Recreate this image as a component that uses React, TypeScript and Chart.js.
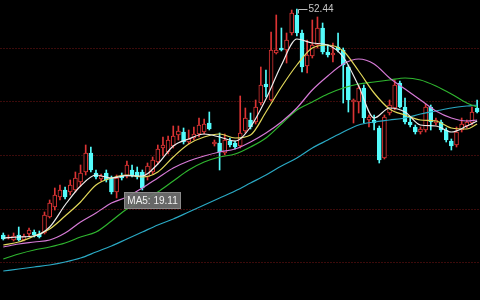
import React, { useEffect, useRef } from "react";
import { Chart, registerables } from "chart.js";

Chart.register(...registerables);

// ---- Candle data (price units) ----
const opens = [
  7.24, 6.64, 6.24, 7.24, 6.24, 7.44, 7.84, 7.44, 7.64, 10.84,
  12.84, 14.84, 16.24, 15.84, 16.24, 17.84, 19.84, 23.64, 19.64, 18.44,
  19.64, 18.64, 15.84, 19.04, 19.04, 20.24, 19.84, 19.84, 18.84, 19.84,
  21.84, 24.64, 23.84, 25.04, 27.24, 27.84, 25.84, 26.64, 27.44, 27.84,
  29.64, 25.44, 25.64, 23.64, 26.04, 25.64, 25.04, 28.04, 30.24, 29.84,
  33.64, 37.44, 34.24, 43.64, 44.64, 44.24, 47.64, 51.24, 47.64, 41.04,
  43.04, 45.24, 48.64, 43.84, 43.24, 44.84, 44.24, 40.84, 33.84, 33.84,
  36.64, 30.24, 30.24, 28.64, 22.64, 31.64, 32.64, 37.64, 32.84, 29.84,
  28.84, 27.84, 28.24, 32.84, 29.64, 29.84, 28.24, 26.04, 25.24, 28.24,
  29.04, 29.64, 32.64,
];
const highs = [
  7.64, 7.24, 7.64, 8.84, 7.44, 8.64, 8.24, 8.04, 11.84, 14.24,
  16.64, 17.24, 16.84, 18.24, 19.84, 21.24, 25.24, 24.84, 20.24, 19.44,
  20.24, 19.04, 19.24, 19.64, 22.04, 21.24, 20.84, 20.24, 21.64, 22.84,
  25.24, 26.84, 27.04, 29.04, 29.04, 28.64, 28.24, 28.84, 30.64, 30.44,
  31.84, 26.24, 27.64, 27.44, 26.64, 26.04, 35.04, 32.64, 31.64, 34.24,
  40.84, 40.24, 47.84, 51.24, 48.64, 47.64, 52.24, 52.44, 48.24, 46.24,
  50.24, 50.84, 49.64, 45.24, 45.64, 47.64, 44.64, 41.24, 34.44, 37.24,
  37.24, 31.24, 31.24, 29.04, 31.24, 34.24, 38.24, 38.04, 34.64, 30.84,
  29.24, 28.84, 33.44, 33.24, 30.64, 30.24, 28.64, 26.44, 28.84, 30.64,
  30.24, 32.84, 34.24,
];
const lows = [
  6.24, 6.44, 6.04, 6.04, 6.04, 7.04, 6.84, 6.64, 7.44, 10.64,
  12.24, 14.24, 14.44, 15.24, 15.84, 17.04, 19.24, 19.84, 18.44, 18.04,
  17.84, 15.44, 14.64, 18.24, 18.64, 18.84, 18.44, 16.24, 18.24, 19.44,
  21.44, 23.04, 23.44, 24.64, 26.24, 25.44, 25.44, 26.24, 26.84, 27.44,
  28.24, 25.04, 20.24, 23.24, 24.84, 24.44, 24.64, 27.64, 28.44, 29.44,
  33.24, 34.84, 34.04, 43.44, 44.04, 41.64, 47.24, 47.04, 39.84, 39.64,
  42.64, 44.64, 43.44, 42.84, 41.84, 43.84, 33.64, 31.84, 29.64, 31.64,
  29.64, 28.84, 28.24, 21.64, 22.44, 31.24, 32.24, 32.64, 29.44, 28.84,
  27.44, 27.44, 27.84, 28.24, 29.24, 27.84, 25.84, 24.24, 24.84, 27.84,
  28.64, 29.24, 31.64,
];
const closes = [
  6.44, 6.84, 7.04, 6.24, 7.04, 8.24, 7.24, 6.84, 11.24, 13.64,
  15.24, 16.24, 14.84, 17.24, 18.64, 19.64, 23.64, 20.24, 18.84, 19.04,
  18.24, 15.84, 18.64, 18.64, 21.24, 19.24, 18.84, 16.64, 21.04, 22.24,
  24.44, 25.24, 26.24, 27.04, 28.04, 25.84, 26.44, 27.44, 29.24, 29.44,
  28.44, 25.84, 23.84, 26.24, 25.24, 24.84, 27.64, 30.64, 28.84, 32.84,
  37.24, 36.84, 44.24, 44.24, 44.24, 46.24, 51.64, 47.64, 40.84, 43.24,
  45.24, 48.64, 43.84, 43.24, 43.64, 44.24, 41.24, 34.24, 34.24, 36.64,
  30.64, 30.84, 29.64, 22.24, 30.84, 33.24, 37.24, 32.84, 29.84, 29.24,
  27.84, 28.44, 32.84, 29.84, 30.24, 28.24, 26.24, 25.04, 27.84, 29.44,
  29.84, 31.84, 31.84,
];

// ---- Moving averages, read at these candle indices ----
const maIndex = [
  0, 3, 6, 9, 12, 15, 18, 21, 24, 27, 30, 33, 36, 39, 42, 45,
  48, 51, 54, 57, 60, 63, 66, 69, 72, 75, 78, 81, 84, 87, 90, 92,
];
const ma5 = [
  6.64, 6.84, 7.04, 8.84, 13.24, 17.04, 19.24, 18.64, 19.11, 19.04, 21.44, 25.04, 26.44, 27.44, 26.84, 26.04,
  28.84, 34.44, 41.24, 46.44, 45.64, 45.24, 42.84, 37.04, 30.64, 32.64, 31.84, 29.24, 29.04, 27.84, 29.04, 30.04,
];
const ma10 = [
  5.24, 5.84, 7.04, 8.44, 11.04, 13.84, 17.24, 18.64, 19.24, 18.84, 19.84, 22.84, 25.44, 26.84, 27.44, 26.64,
  27.24, 31.84, 36.84, 41.24, 44.64, 45.24, 44.04, 40.04, 35.64, 32.44, 31.24, 30.24, 30.04, 28.64, 28.44, 29.44,
];
const ma20 = [
  4.84, 5.44, 5.84, 6.24, 7.64, 9.84, 11.64, 13.64, 14.84, 16.64, 18.64, 20.64, 22.04, 23.04, 23.84, 24.44,
  25.84, 27.64, 29.84, 32.64, 36.24, 39.04, 41.44, 42.44, 41.44, 38.64, 36.44, 34.24, 32.04, 30.64, 30.04, 30.24,
];
const ma30 = [
  2.44, 3.44, 4.24, 4.84, 5.64, 6.84, 7.84, 10.04, 12.44, 14.04, 15.84, 18.04, 20.24, 21.84, 22.84, 23.44,
  24.84, 26.64, 29.44, 32.24, 33.84, 35.44, 36.64, 37.44, 37.84, 38.24, 38.64, 38.24, 37.04, 35.44, 33.64, 32.84,
];
const ma60 = [
  0.04, 0.44, 0.84, 1.24, 1.84, 2.64, 3.84, 5.04, 6.44, 7.84, 9.24, 10.44, 11.84, 13.24, 14.64, 16.04,
  17.64, 19.24, 21.04, 22.64, 24.64, 26.24, 27.84, 29.24, 29.84, 30.24, 30.64, 31.44, 32.04, 32.64, 33.04, 33.24,
];

const gridValues = [44.64, 34.04, 23.24, 12.44, 1.84];
const Y_MIN = -5.76;
const Y_MAX = 54.24;
const tipIndex = 24;
const tipLabel = "MA5";

const UP = "#dc3434";
const DOWN = "#54fcfc";

export default function App() {
  const ref = useRef<HTMLCanvasElement>(null);

  useEffect(() => {
    document.body.style.margin = "0";
    document.body.style.background = "#000";
    const canvas = ref.current;
    if (!canvas) return;

    const isUp = closes.map((c, i) => c >= opens[i]);
    const bodies = opens.map((o, i) => ({
      x: i,
      y: [Math.min(o, closes[i]), Math.max(o, closes[i])],
    }));
    const wicks = lows.map((l, i) => ({ x: i, y: [l, highs[i]] }));
    const line = (vals: number[], color: string) => ({
      type: "line" as const,
      data: maIndex.map((x, k) => ({ x, y: vals[k] })),
      borderColor: color,
      borderWidth: 1.2,
      pointRadius: 0,
      cubicInterpolationMode: "monotone" as const,
      fill: false,
      order: 0,
    });

    const overlay = {
      id: "overlay",
      beforeDatasetsDraw(chart: any) {
        const { ctx, chartArea, scales } = chart;
        ctx.save();
        ctx.strokeStyle = "rgba(120,22,22,0.5)";
        ctx.lineWidth = 1;
        ctx.setLineDash([2, 1]);
        gridValues.forEach((v) => {
          const y = Math.round(scales.y.getPixelForValue(v)) + 0.5;
          ctx.beginPath();
          ctx.moveTo(chartArea.left, y);
          ctx.lineTo(chartArea.right, y);
          ctx.stroke();
        });
        ctx.restore();
      },
      afterDatasetsDraw(chart: any) {
        const { ctx, scales } = chart;
        ctx.save();
        // max high marker
        let mi = 0;
        highs.forEach((h, i) => {
          if (h > highs[mi]) mi = i;
        });
        const hx = Math.round(scales.x.getPixelForValue(mi)) + 1.5;
        const hy = Math.round(scales.y.getPixelForValue(highs[mi])) + 0.5;
        ctx.strokeStyle = "#bdbdbd";
        ctx.lineWidth = 1;
        ctx.beginPath();
        ctx.moveTo(hx, hy + 4);
        ctx.lineTo(hx, hy);
        ctx.lineTo(hx + 9, hy);
        ctx.stroke();
        ctx.fillStyle = "#c8c8c8";
        ctx.font = "10px 'Liberation Sans', Arial, sans-serif";
        ctx.textBaseline = "middle";
        ctx.textAlign = "left";
        ctx.fillText(highs[mi].toFixed(2), hx + 10, hy);

        // MA5 value box
        const k = maIndex.indexOf(tipIndex);
        const v = ma5[k];
        const tx = scales.x.getPixelForValue(tipIndex);
        const ty = scales.y.getPixelForValue(v);
        const bx = Math.round(tx - 3) + 0.5;
        const by = Math.round(ty + 16) + 0.5;
        const bw = 56;
        const bh = 16;
        ctx.fillStyle = "rgba(112,112,112,0.92)";
        ctx.fillRect(bx, by, bw, bh);
        ctx.strokeStyle = "#8a8a8a";
        ctx.strokeRect(bx, by, bw, bh);
        ctx.fillStyle = "#f0f0f0";
        ctx.font = "10px 'Liberation Sans', Arial, sans-serif";
        ctx.textAlign = "center";
        ctx.fillText(`${tipLabel}: ${v.toFixed(2)}`, bx + bw / 2, by + bh / 2 + 0.5);
        ctx.restore();
      },
    };

    const chart = new Chart(canvas, {
      type: "bar",
      data: {
        datasets: [
          line(ma5, "#ececec"),
          line(ma10, "#e2d85a"),
          line(ma20, "#d67ad6"),
          line(ma30, "#2fb52f"),
          line(ma60, "#2aa9c4"),
          {
            type: "bar",
            data: bodies as any,
            backgroundColor: isUp.map((u) => (u ? "#000000" : DOWN)),
            borderColor: isUp.map((u) => (u ? UP : DOWN)),
            borderWidth: 1,
            borderSkipped: false,
            barThickness: 4,
            grouped: false,
            order: 1,
          } as any,
          {
            type: "bar",
            data: wicks as any,
            backgroundColor: isUp.map((u) => (u ? UP : DOWN)),
            borderWidth: 0,
            barThickness: 1,
            grouped: false,
            order: 2,
          } as any,
        ],
      },
      options: {
        responsive: false,
        animation: false,
        maintainAspectRatio: false,
        devicePixelRatio: 1,
        layout: { padding: 0 },
        plugins: {
          legend: { display: false },
          tooltip: { enabled: false },
        },
        scales: {
          x: {
            type: "linear",
            min: -0.64,
            max: 92.56,
            offset: false,
            display: false,
            grid: { offset: false },
          },
          y: { type: "linear", min: Y_MIN, max: Y_MAX, display: false },
        },
      },
      plugins: [overlay],
    });

    return () => chart.destroy();
  }, []);

  return (
    <div
      style={{
        position: "absolute",
        left: 0,
        top: 0,
        width: 480,
        height: 300,
        background: "#000",
      }}
    >
      <canvas ref={ref} width={480} height={300} style={{ display: "block" }} />
    </div>
  );
}
